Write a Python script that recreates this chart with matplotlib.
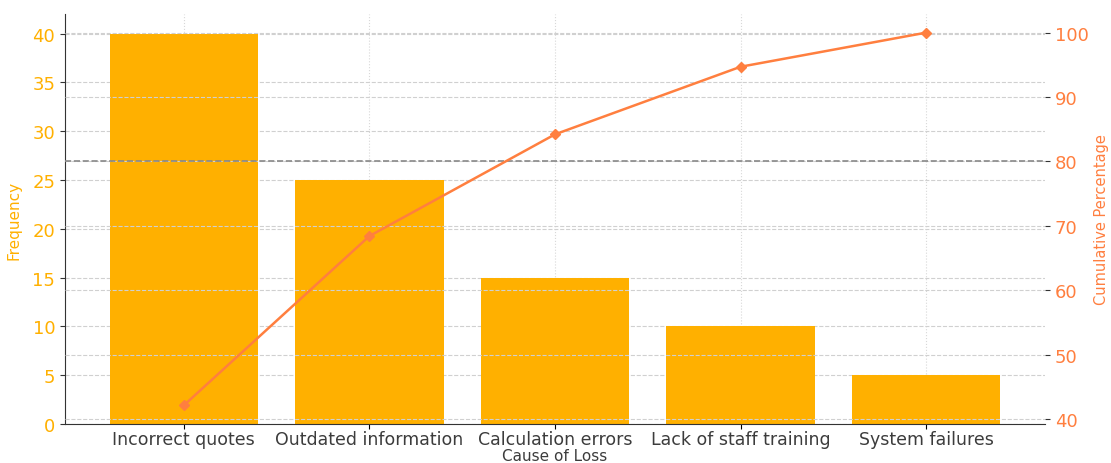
import matplotlib
matplotlib.use("Agg")
import matplotlib.pyplot as plt
import numpy as np

# data
causes = ["Incorrect quotes", "Outdated information", "Calculation errors",
          "Lack of staff training", "System failures"]
frequency = [40, 25, 15, 10, 5]
cumulative_pct = [42.1, 68.4, 84.2, 94.7, 100.0]
threshold = 80

bar_color = "#FFB000"
line_color = "#FF7F3F"
text_color = "#3c3c3c"

fig = plt.figure(figsize=(11.11, 4.64), dpi=100)
ax = fig.add_axes([0.0585, 0.084, 0.8821, 0.8837])

x = np.arange(len(causes))
ax.bar(x, frequency, width=0.8, color=bar_color, zorder=2)
ax.set_xticks(x)
ax.set_xticklabels(causes, fontsize=12.5, color=text_color)
ax.set_xlabel("Cause of Loss", fontsize=11, color=text_color, labelpad=0)
ax.set_ylabel("Frequency", fontsize=11, color=bar_color, labelpad=8)
ax.tick_params(axis="y", colors=bar_color, labelsize=13, color="#333333")
ax.tick_params(axis="x", pad=1)
ax.grid(True, axis="y", linestyle="--", color="#d0d0d0", linewidth=0.8, zorder=0)
ax.grid(True, axis="x", linestyle=":", color="#d8d8d8", linewidth=0.8, zorder=0)
ax.set_axisbelow(True)
for s in ["top", "right"]:
    ax.spines[s].set_visible(False)
ax.spines["left"].set_color("#333333")
ax.spines["bottom"].set_color("#333333")

ax2 = ax.twinx()
ax2.plot(x, cumulative_pct, color=line_color, marker="D", markersize=5,
         linewidth=1.8, zorder=3)
ax2.axhline(threshold, color="#888888", linestyle="--", linewidth=1.2)
ax2.set_ylabel("Cumulative Percentage", fontsize=10.5, color=line_color)
ax2.yaxis.set_label_coords(1.050, 0.5)
ax2.tick_params(axis="y", colors=line_color, labelsize=13, color="#333333")
ax2.grid(True, axis="y", linestyle="--", color="#d0d0d0", linewidth=0.8)
for s in ["top", "right", "left", "bottom"]:
    ax2.spines[s].set_visible(False)

fig.savefig("out.png", dpi=100)
